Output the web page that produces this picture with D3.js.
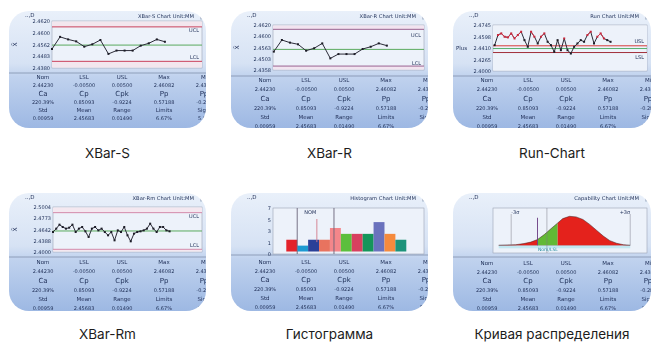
<!DOCTYPE html>
<html>
<head>
<meta charset="utf-8">
<script src="https://cdn.jsdelivr.net/npm/d3@7"></script>
<style>
body { margin: 0; background: #fff; }
svg { display: block; }
</style>
</head>
<body>
<svg width="659" height="342"></svg>
<script>
//	captions under each panel
var captions = ["XBar-S", "XBar-R", "Run-Chart", "XBar-Rm", "Гистограмма", "Кривая распределения"];
var chartTitles = ["XBar-S Chart", "XBar-R Chart", "Run Chart", "XBar-Rm Chart", "Histogram Chart", "Capability Chart"];

//	stats table (same in every screenshot)
var statHeads = [
	["Nom", "LSL", "USL", "Max", "Min"],
	["Ca", "Cp", "Cpk", "Pp", "Ppk"],
	["Std", "Mean", "Range", "Limits", "Sigma"]
];
var statValues = [
	["2.44230", "-0.00500", "0.00500", "2.46082", "2.43430"],
	["220.39%", "0.85093", "-0.9224", "0.57188", "-0.2837"],
	["0.00959", "2.45683", "0.01490", "6.67%", "5.00%"]
];

//	XBar-S
var xbarS = [2.4477, 2.4539, 2.4526, 2.4516, 2.4489, 2.4501, 2.4523, 2.4452, 2.4469, 2.4469, 2.4469, 2.4494, 2.4506, 2.4526, 2.4514];
var xbarSLimits = [2.4590, 2.4497, 2.4414];
var xbarSTicks = ["2.4620", "2.4600", "2.4562", "2.4483", "2.4380"];

//	XBar-R
var xbarR = [2.4478, 2.4540, 2.4526, 2.4517, 2.4483, 2.4496, 2.4522, 2.4442, 2.4465, 2.4465, 2.4465, 2.4492, 2.4504, 2.4522, 2.4510];
var xbarRLimits = [2.4597, 2.4490, 2.4401];
var xbarRTicks = ["2.4620", "2.4600", "2.4563", "2.4503", "2.4358"];

//	Run chart
var runValues = [2.4419, 2.4582, 2.4609, 2.4555, 2.4544, 2.4609, 2.4527, 2.4582, 2.4636, 2.4500, 2.4392, 2.4636,
	2.4555, 2.4446, 2.4555, 2.4609, 2.4473, 2.4419, 2.4310, 2.4500, 2.4337, 2.4527, 2.4337, 2.4283,
	2.4392, 2.4446, 2.4500, 2.4473, 2.4582, 2.4636, 2.4446, 2.4555, 2.4609, 2.4527, 2.4500, 2.4473];
var runLimits = [2.4408, 2.4364, 2.4299];
var runTicks = ["2.4745", "2.4598", "2.4410", "2.4265", "2.4000"];

//	XBar-Rm
var xbarRm = [2.4446, 2.4521, 2.4610, 2.4558, 2.4521, 2.4543, 2.4610, 2.4446, 2.4521, 2.4558, 2.4461, 2.4335,
	2.4521, 2.4558, 2.4483, 2.4521, 2.4446, 2.4372, 2.4446, 2.4260, 2.4483, 2.4446, 2.4558, 2.4372,
	2.4238, 2.4409, 2.4446, 2.4461, 2.4483, 2.4521, 2.4632, 2.4521, 2.4446, 2.4558, 2.4558, 2.4483, 2.4461];
var xbarRmLimits = [2.4878, 2.4469, 2.4060];
var xbarRmTicks = ["2.5004", "2.4773", "2.4642", "2.4388", "2.4000"];

//	Histogram
var histCounts = [2, 1, 2, 2, 4, 3, 3, 3, 5, 3, 2];
var histColors = ["#e3202a", "#1f9ad2", "#2c3f98", "#e8735f", "#f4868a", "#5cbf3c", "#d8415e", "#17955a", "#6b72bd", "#f58a3e", "#1d937a"];
var histTicks = ["7", "5", "3", "1", "0"];
var histSpecs = [1, 2.8, 4.37];

//	Capability curve
var capX = [2.4037, 2.4092, 2.4147, 2.4201, 2.4245, 2.4289, 2.4333, 2.4376, 2.4420, 2.4453,
	2.4497, 2.4540, 2.4584, 2.4628, 2.4672, 2.4716, 2.4759, 2.4803, 2.4847, 2.4891];
var capDensity = [0, 0.01, 0.02, 0.06, 0.11, 0.2, 0.37, 0.57, 0.77, 0.92,
	1.0, 0.98, 0.89, 0.72, 0.52, 0.32, 0.16, 0.07, 0.02, 0];
var capLines = [2.4118, 2.4289, 2.4350, 2.4891];

//	panel layout
var layout = [
	{x: 9,   y: 11,  w: 197, h: 117, box: {x: 43, y: 10, h: 47}, sep: 62, rows: [66, 74, 83, 90.5, 99, 107]},
	{x: 231, y: 11,  w: 197, h: 117, box: {x: 42, y: 14, h: 45}, sep: 65, rows: [69, 78, 88, 97, 106, 115]},
	{x: 453, y: 11,  w: 198, h: 117, box: {x: 40, y: 14, h: 46}, sep: 65, rows: [69, 78, 88, 97, 106, 115]},
	{x: 9,   y: 193, w: 197, h: 118, box: {x: 44, y: 14, h: 45}, sep: 64, rows: [69, 78, 88, 97, 106, 115]},
	{x: 231, y: 193, w: 197, h: 118, box: {x: 42, y: 15, h: 46}, sep: 62, rows: [69, 78, 87, 96, 105, 114]},
	{x: 453, y: 193, w: 198, h: 118, box: {x: 40, y: 15, h: 45}, sep: 64, rows: [70, 79, 88, 97, 106, 115]}
];
var colX = [34, 75, 113, 155, 197];

var svg = d3.select("svg");
var defs = svg.append("defs");

var grad = defs.append("linearGradient").attr("id", "panelBg")
	.attr("x1", 0).attr("y1", 0).attr("x2", 0).attr("y2", 1);
[[0, "#e9f0fa"], [0.45, "#d6e2f4"], [0.56, "#c0d2ee"], [1, "#9db8e3"]].forEach(function(s) {
	grad.append("stop").attr("offset", s[0]).attr("stop-color", s[1]);
});
defs.append("filter").attr("id", "soft")
	.append("feGaussianBlur").attr("stdDeviation", 0.4);

var ink = "#22325a";

function drawPanel(p, i) {
	var g = svg.append("g").attr("transform", "translate(" + p.x + "," + p.y + ")");
	defs.append("clipPath").attr("id", "clip" + i)
		.append("rect").attr("width", p.w).attr("height", p.h).attr("rx", 20);
	g.append("rect").attr("width", p.w).attr("height", p.h).attr("rx", 20)
		.attr("fill", "url(#panelBg)");
	var c = g.append("g").attr("clip-path", "url(#clip" + i + ")")
		.append("g").attr("filter", "url(#soft)");

	//	top strip
	c.append("text").attr("x", 16).attr("y", 6).attr("font-size", 5.5).attr("fill", ink).text("..,D");
	c.append("text").attr("x", p.w - 12).attr("y", 6.5).attr("font-size", 5.2)
		.attr("text-anchor", "end").attr("fill", ink).text(chartTitles[i] + "  Unit:MM");
	c.append("text").attr("x", p.w - 6).attr("y", 7).attr("font-size", 6).attr("fill", ink).text("|");

	//	separator below the plot
	c.append("line").attr("x1", 0).attr("x2", p.w).attr("y1", p.sep).attr("y2", p.sep)
		.attr("stroke", "#8290ac").attr("stroke-width", 0.8);

	//	stats table
	statHeads.forEach(function(row, r) {
		c.selectAll(null).data(row).enter().append("text")
			.attr("x", function(d, k) { return colX[k]; })
			.attr("y", p.rows[r * 2] + 2)
			.attr("text-anchor", "middle")
			.attr("font-size", r == 1 ? 7 : 5.5)
			.attr("fill", ink)
			.text(function(d) { return d; });
		c.selectAll(null).data(statValues[r]).enter().append("text")
			.attr("x", function(d, k) { return colX[k]; })
			.attr("y", p.rows[r * 2 + 1] + 2)
			.attr("text-anchor", "middle")
			.attr("font-size", 5)
			.attr("fill", ink)
			.text(function(d) { return d; });
	});
	return c;
}

function plotBox(c, p) {
	var b = p.box;
	c.append("rect").attr("x", b.x).attr("y", b.y).attr("width", p.w - 4 - b.x).attr("height", b.h)
		.attr("fill", "#edf2fa").attr("stroke", "#9ba2b4").attr("stroke-width", 0.6);
}

function tickLabels(c, p, ticks) {
	var b = p.box;
	var ys = d3.scalePoint().domain(ticks).range([b.y, b.y + b.h]);
	var ax = c.append("g").attr("transform", "translate(" + (b.x - 1) + ",0)")
		.call(d3.axisLeft(ys).tickSize(0).tickPadding(1));
	ax.select(".domain").remove();
	ax.selectAll("text").attr("font-size", 5).attr("fill", ink).attr("font-family", "DejaVu Sans");
}

function controlChart(c, p, o) {
	var b = p.box, x0 = b.x, x1 = p.w - 4, y0 = b.y, y1 = b.y + b.h;
	var x = d3.scaleLinear().domain(o.xDomain).range([x0, x1]);
	var y = d3.scaleLinear().domain(o.yDomain).range([y1, y0]);
	plotBox(c, p);
	//	pink bands outside the limits
	c.append("rect").attr("x", x0).attr("width", x1 - x0).attr("y", y0 + 0.5)
		.attr("height", y(o.limits[0]) - y0 - 0.5).attr("fill", o.band);
	c.append("rect").attr("x", x0).attr("width", x1 - x0).attr("y", y(o.limits[2]))
		.attr("height", y1 - y(o.limits[2]) - 0.5).attr("fill", o.band);
	c.selectAll(null).data(o.limits).enter().append("line")
		.attr("x1", x0).attr("x2", x1)
		.attr("y1", function(d) { return y(d); }).attr("y2", function(d) { return y(d); })
		.attr("stroke", function(d, k) { return o.limitColors[k]; })
		.attr("stroke-width", 1);
	tickLabels(c, p, o.ticks);
	c.append("text").attr("x", x1 - 3).attr("y", y(o.limits[0]) + o.labelDy[0])
		.attr("text-anchor", "end").attr("font-size", 5).attr("fill", ink).text(o.labels[0]);
	c.append("text").attr("x", x1 - 3).attr("y", y(o.limits[2]) + o.labelDy[1])
		.attr("text-anchor", "end").attr("font-size", 5).attr("fill", ink).text(o.labels[1]);
	//	axis name
	if (o.axisName == "Plus") {
		c.append("text").attr("x", 3).attr("y", (y0 + y1) / 2 + 2).attr("font-size", 5.5)
			.attr("fill", ink).text("Plus");
	} else {
		c.append("text").attr("transform", "translate(8," + ((y0 + y1) / 2) + ") rotate(-90)")
			.attr("text-anchor", "middle").attr("font-size", 6).attr("fill", ink).text("X̄");
	}
	var line = d3.line()
		.x(function(d, k) { return x(k + o.offset); })
		.y(function(d) { return y(d); });
	c.append("path").datum(o.values).attr("d", line)
		.attr("fill", "none").attr("stroke", "#2c2c38").attr("stroke-width", 1);
	if (o.redAbove) {
		//	high segments drawn in red
		var segs = d3.pairs(o.values.map(function(v, k) { return [k, v]; }))
			.filter(function(s) { return s[0][1] > o.redAbove && s[1][1] > o.redAbove; });
		c.selectAll(null).data(segs).enter().append("line")
			.attr("x1", function(s) { return x(s[0][0] + o.offset); })
			.attr("y1", function(s) { return y(s[0][1]); })
			.attr("x2", function(s) { return x(s[1][0] + o.offset); })
			.attr("y2", function(s) { return y(s[1][1]); })
			.attr("stroke", "#d8344a").attr("stroke-width", 1);
	}
	c.selectAll(null).data(o.values).enter().append("rect")
		.attr("x", function(d, k) { return x(k + o.offset) - 1; })
		.attr("y", function(d) { return y(d) - 1; })
		.attr("width", 2).attr("height", 2)
		.attr("fill", function(d) { return o.redAbove && d > o.redAbove ? "#c8283c" : "#1e1e28"; });
}

function histogram(c, p) {
	var b = p.box, y0 = b.y, y1 = b.y + b.h;
	plotBox(c, p);
	var x = d3.scaleBand().domain(d3.range(histCounts.length)).range([b.x + 13.3, b.x + 133.3]);
	var xl = d3.scaleLinear().domain([0, histCounts.length]).range([b.x + 13.3, b.x + 133.3]);
	var y = d3.scaleLinear().domain([0, 7.4]).range([y1 - 2.5, y0]);
	tickLabels(c, p, histTicks);
	c.selectAll(null).data(histCounts).enter().append("rect")
		.attr("x", function(d, k) { return x(k); })
		.attr("y", function(d) { return y(d); })
		.attr("width", x.bandwidth())
		.attr("height", function(d) { return y(0) - y(d); })
		.attr("fill", function(d, k) { return histColors[k]; });
	c.selectAll(null).data(histSpecs).enter().append("line")
		.attr("x1", function(d) { return xl(d); }).attr("x2", function(d) { return xl(d); })
		.attr("y1", function(d, k) { return k == 1 ? y0 + 11 : y0; })
		.attr("y2", function(d, k) { return k == 1 ? y(1.6) : y1; })
		.attr("stroke", function(d, k) { return k == 1 ? "#d27a8c" : "#6a6478"; })
		.attr("stroke-width", 0.9);
	c.append("text").attr("x", xl(2.2)).attr("y", y0 + 6).attr("text-anchor", "middle")
		.attr("font-size", 5).attr("fill", ink).text("NOM");
}

function capability(c, p) {
	var b = p.box, x0 = b.x, x1 = p.w - 4, y0 = b.y, y1 = b.y + b.h;
	plotBox(c, p);
	var x = d3.scaleLinear().domain([2.4, 2.5]).range([x0, x1]);
	var y = d3.scaleLinear().domain([0, 1]).range([y0 + 37.3, y0 + 8.3]);
	var pts = capX.map(function(v, k) { return [v, capDensity[k]]; });
	c.append("rect").attr("x", x(capX[0])).attr("width", x(capX[capX.length - 1]) - x(capX[0]))
		.attr("y", y(0) + 0.5).attr("height", 2.5).attr("fill", "#c2e8f2");
	c.append("line").attr("x1", x(capX[0])).attr("x2", x(capX[capX.length - 1]))
		.attr("y1", y(0)).attr("y2", y(0)).attr("stroke", "#8a8a96").attr("stroke-width", 0.6);
	var area = d3.area().x(function(d) { return x(d[0]); }).y0(y(0)).y1(function(d) { return y(d[1]); });
	//	red tail, green part between LSL and NOM, red body
	c.append("path").datum(pts.slice(0, 6)).attr("d", area).attr("fill", "#e4231f");
	c.append("path").datum(pts.slice(5, 9)).attr("d", area).attr("fill", "#62b934");
	c.append("path").datum(pts.slice(8)).attr("d", area).attr("fill", "#e4231f");
	c.append("path").datum(pts).attr("d", d3.line().x(function(d) { return x(d[0]); }).y(function(d) { return y(d[1]); }))
		.attr("fill", "none").attr("stroke", "#402020").attr("stroke-width", 0.5);
	c.selectAll(null).data(capLines).enter().append("line")
		.attr("x1", function(d) { return x(d); }).attr("x2", function(d) { return x(d); })
		.attr("y1", function(d, k) { return k == 1 ? y(0.95) : (k == 2 ? y0 : y0 + 6); })
		.attr("y2", function(d, k) { return k == 2 ? y1 : y(0); })
		.attr("stroke", function(d, k) { return k == 1 ? "#6a3a80" : "#7c7c88"; })
		.attr("stroke-width", function(d, k) { return k == 1 ? 0.9 : 0.5; });
	c.append("text").attr("x", x(capLines[0])).attr("y", y0 + 6).attr("font-size", 5)
		.attr("fill", ink).text("-3σ");
	c.append("text").attr("x", x(capLines[3])).attr("y", y0 + 6).attr("font-size", 5)
		.attr("text-anchor", "end").attr("fill", ink).text("+3σ");
	c.append("text").attr("x", x(capLines[2]) + 1).attr("y", y(0) + 5.5).attr("font-size", 4.5)
		.attr("text-anchor", "middle").attr("fill", "#1f8a9c").text("Nom/LSL");
}

var cs = layout.map(drawPanel);

controlChart(cs[0], layout[0], {
	values: xbarS, limits: xbarSLimits, ticks: xbarSTicks, xDomain: [0, 18.6], offset: 0,
	yDomain: [2.4380, 2.4620], limitColors: ["#c9405c", "#5aaa5e", "#c9405c"], band: "#f3e6ee",
	labels: ["UCL", "LCL"], labelDy: [5.5, -2]
});
controlChart(cs[1], layout[1], {
	values: xbarR, limits: xbarRLimits, ticks: xbarRTicks, xDomain: [-0.1, 18.6], offset: 0,
	yDomain: [2.4380, 2.4620], limitColors: ["#9a6290", "#5aaa5e", "#9a6290"], band: "#f2e4f0",
	labels: ["UCL", "LCL"], labelDy: [8, -1]
});
controlChart(cs[2], layout[2], {
	values: runValues, limits: runLimits, ticks: runTicks, xDomain: [0, 46.5], offset: 0.5,
	yDomain: [2.4000, 2.4745], limitColors: ["#d63a3a", "#58b070", "#a0303a"], band: "#edf2fa",
	labels: ["USL", "LSL"], labelDy: [-3, 6], redAbove: 2.452, axisName: "Plus"
});
controlChart(cs[3], layout[3], {
	values: xbarRm, limits: xbarRmLimits, ticks: xbarRmTicks, xDomain: [0, 46], offset: 0,
	yDomain: [2.4000, 2.5004], limitColors: ["#d48aaa", "#5aaa5e", "#d48aaa"], band: "#f4e8f0",
	labels: ["UCL", "LCL"], labelDy: [5, -2]
});
histogram(cs[4], layout[4]);
capability(cs[5], layout[5]);

//	captions
svg.selectAll(".caption").data(captions).enter().append("text")
	.attr("class", "caption")
	.attr("x", function(d, i) { return layout[i].x + layout[i].w / 2; })
	.attr("y", function(d, i) { return i < 3 ? 157.5 : 339; })
	.attr("text-anchor", "middle")
	.attr("font-family", "Inter, 'Noto Sans', sans-serif")
	.attr("font-size", 13.5)
	.attr("fill", "#1c1c1c")
	.text(function(d) { return d; });

svg.selectAll("g text:not(.caption)").attr("font-family", "'DejaVu Sans', sans-serif");
</script>
</body>
</html>
